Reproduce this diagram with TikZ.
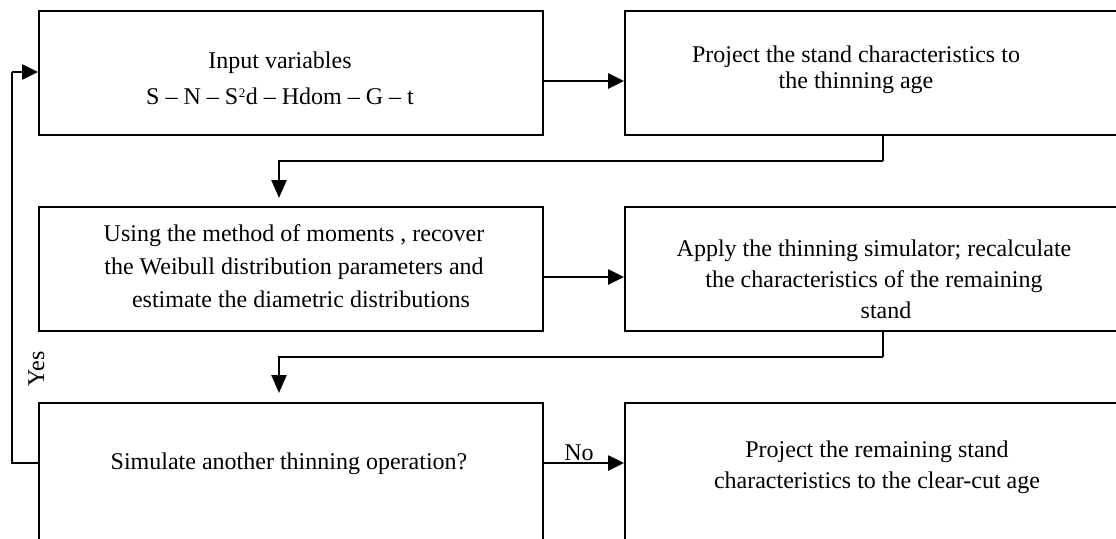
\documentclass[tikz,border=0pt]{standalone}
\usepackage{fontspec}
\setmainfont{Liberation Serif}
\usetikzlibrary{arrows.meta,calc}
\begin{document}
\begin{tikzpicture}[x=1pt,y=-1pt,
  box/.style={draw, line width=1.8pt, inner sep=0pt, anchor=north west},
  lbl/.style={inner sep=0pt, align=center, anchor=north},
  arr/.style={line width=2.6pt, -{Triangle[length=16pt,width=15pt]}},
  thinln/.style={line width=1.3pt},
  conn/.style={line width=2.4pt, -{Triangle[length=18pt,width=15pt]}},
  tfont/.style={font=\fontsize{24}{#1}\selectfont},
]
\useasboundingbox (0,0) rectangle (1116,538);
\clip (0,0) rectangle (1116,538);
% boxes
\node[box, minimum width=504pt, minimum height=124pt] (A) at (38,10) {};
\node[box, minimum width=540pt, minimum height=124pt] (B) at (624,10) {};
\node[box, minimum width=504pt, minimum height=124pt] (C) at (38,206) {};
\node[box, minimum width=540pt, minimum height=124pt] (D) at (624,206) {};
\node[box, minimum width=504pt, minimum height=170pt] (E) at (38,402) {};
\node[box, minimum width=540pt, minimum height=170pt] (F) at (624,402) {};
% texts
\node[lbl, tfont=36] (tA) at (280,51.6) {Input variables\\S – N – S\kern0.5pt\raisebox{7pt}{\fontsize{13}{13}\selectfont 2}\kern0.5pt d – Hdom – G – t};
\node[lbl, tfont=26] (tB) at (856,45.6) {Project the stand characteristics to\\the thinning age};
\node[lbl, tfont=33] (tC) at (294,224.6) {Using the method of moments , recover\\the Weibull distribution parameters and\\\hspace*{14pt}estimate the diametric distributions};
\node[lbl, tfont=31] (tD) at (874,239.6) {Apply the thinning simulator; recalculate\\the characteristics of the remaining\\\hspace*{24pt}stand};
\node[lbl, tfont=29] (tE) at (289,452.6) {Simulate another thinning operation?};
\node[lbl, tfont=31] (tF) at (877,440.6) {Project the remaining stand\\characteristics to the clear-cut age};
% coordinates
\coordinate (ya) at (12,72);
\coordinate (k1) at (883,161);
\coordinate (t1) at (279,198);
\coordinate (k2) at (883,357);
\coordinate (t2) at (279,393);
% horizontal arrows
\draw[arr] (A.east |- 0,81) -- (B.west |- 0,81);
\draw[arr] (C.east |- 0,277) -- (D.west |- 0,277);
\draw[arr] (E.east |- 0,463) -- (F.west |- 0,463);
\node[tfont=29, anchor=base, inner sep=0pt] (no) at (579,460) {No};
% down connectors
\draw[thinln] (k1 |- B.south) -- (k1);
\draw[conn] (k1) -| (t1);
\draw[thinln] (k2 |- D.south) -- (k2);
\draw[conn] (k2) -| (t2);
% yes loop
\draw[thinln] (E.west |- 0,463) -| (ya);
\draw[arr] (ya) -- (A.west |- ya);
\node[tfont=29, rotate=90, anchor=base, inner sep=0pt] (yes) at (44,369) {Yes};
\end{tikzpicture}
\end{document}
